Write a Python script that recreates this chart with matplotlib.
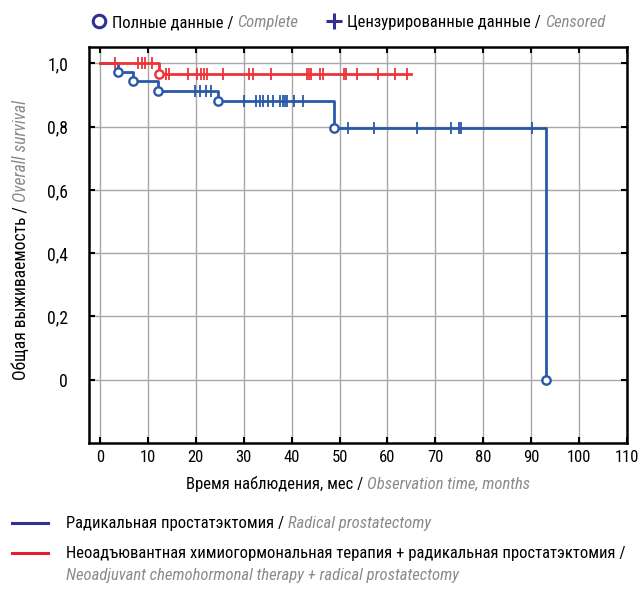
import numpy as np
import matplotlib
matplotlib.use("Agg")
import matplotlib.pyplot as plt
from matplotlib.lines import Line2D
from matplotlib import font_manager as fm

# ---------------------------------------------- data

# radical prostatectomy
rp_times = [0, 3.8, 6.9, 12.1, 24.6, 48.9, 93.1]
rp_surv = [1.0, 0.972, 0.944, 0.912, 0.881, 0.795, 0.0]
rp_events = [3.8, 6.9, 12.1, 24.6, 48.9, 93.1]
rp_censored = [19.8, 20.9, 22.2, 23.2,
               30.1, 32.6, 33.4, 34.1, 35.0, 36.2, 37.6, 38.1, 38.6, 39.1, 40.5, 42.3,
               51.7, 57.2, 66.1, 73.3, 74.9, 75.4, 90.1]

# neoadjuvant chemohormonal therapy + radical prostatectomy
nt_times = [0, 12.3]
nt_surv = [1.0, 0.968]
nt_end = 65.0
nt_events = [12.3]
nt_censored = [3.2, 8.0, 8.7, 9.4, 10.8,
               13.8, 14.5, 18.4, 20.2, 21.0, 21.7, 22.4, 25.7, 31.0, 32.0, 35.6,
               43.2, 43.7, 44.1, 45.9, 46.6, 50.9, 51.4, 53.7, 58.1, 61.6, 64.0]

x_ticks = [0, 10, 20, 30, 40, 50, 60, 70, 80, 90, 100, 110]
y_ticks = [0, 0.2, 0.4, 0.6, 0.8, 1.0]
y_labels = ["0", "0,2", "0,4", "0,6", "0,8", "1,0"]

BLUE = "#2a58a8"
RED = "#ee3338"
NAVY = "#2e3192"
LRED = "#e31e2d"
GRAY = "#8a8a8a"
W, H = 638, 592

# ---------------------------------------------- pick a narrow font if there is one

names = {f.name for f in fm.fontManager.ttflist}
narrowStretch = ('condensed', 'semi-condensed', 'extra-condensed', 'ultra-condensed')
family = 'DejaVu Sans'
stretch = 'normal'
for cand in ['Liberation Sans Narrow', 'Roboto Condensed', 'Open Sans Condensed',
             'DejaVu Sans Condensed']:
  if cand in names:
    family = cand
    break
else:
  for f in fm.fontManager.ttflist:
    if f.name in ('DejaVu Sans', 'Roboto', 'Open Sans', 'Noto Sans') and f.stretch in narrowStretch:
      family = f.name
      stretch = f.stretch
      break

plt.rcParams['font.family'] = [family, 'DejaVu Sans']
plt.rcParams['font.stretch'] = stretch

# ----------------------------------------------

def survAt(times, surv, t):
  i = np.searchsorted(times, t, side='right') - 1
  return np.array(surv)[i]


def richText(fig, px, py, parts, fs, rotation=0, center=False):
  # parts: list of (text, color, style); px, py in pixels from top-left
  r = fig.canvas.get_renderer()
  texts = []
  sizes = []
  for txt, color, style in parts:
    t = fig.text(0, 0, txt, color=color, style=style, fontsize=fs, rotation=rotation,
                 rotation_mode='anchor', ha='left', va='baseline')
    ex = t.get_window_extent(renderer=r)
    texts.append(t)
    sizes.append(ex.height if rotation else ex.width)
  pos = -sum(sizes) / 2 if center else 0
  for t, s in zip(texts, sizes):
    if rotation:
      t.set_position((px / W, 1 - (py - pos) / H))
    else:
      t.set_position(((px + pos) / W, 1 - py / H))
    pos += s
  return sum(sizes)


def drawCurve(ax, times, surv, end, events, censored, color):
  xs = list(times) + ([end] if end is not None else [])
  ys = list(surv) + ([surv[-1]] if end is not None else [])
  ax.step(xs, ys, where='post', color=color, lw=2.0, zorder=3)
  ax.plot(censored, survAt(times, surv, censored), ls='none', marker='|',
          ms=8, mew=1.3, color=color, zorder=4)
  ax.plot(events, survAt(times, surv, events), ls='none', marker='o',
          ms=6, mew=1.7, mfc='white', mec=color, zorder=5)

# ----------------------------------------------

fig = plt.figure(figsize=(W / 100, H / 100), dpi=100)

# fit the font size to the long legend line (66 .. 627 px in the reference)
longLine = "Неоадъювантная химиогормональная терапия + радикальная простатэктомия /"
probe = fig.text(0, 0, longLine, fontsize=12)
probeW = probe.get_window_extent(renderer=fig.canvas.get_renderer()).width
probe.remove()
FS = min(13.5, 12 * 560 / probeW)

ax = fig.add_axes([89 / W, 1 - 443 / H, (627 - 89) / W, (443 - 47) / H])

ax.set_xlim(-2.3, 110)
ax.set_ylim(-0.2, 1.052)
ax.set_xticks(x_ticks)
ax.set_yticks(y_ticks)
ax.set_yticklabels(y_labels)
ax.grid(True, color="#a8a8a8", lw=1.0, zorder=0)
ax.tick_params(direction='in', length=4, width=1.5, top=True, right=True,
               labelsize=FS, pad=5)
ax.tick_params(axis='y', labelsize=FS * 1.06, pad=15)
for s in ax.spines.values():
  s.set_linewidth(1.8)

drawCurve(ax, rp_times, rp_surv, None, rp_events, rp_censored, BLUE)
drawCurve(ax, nt_times, nt_surv, nt_end, nt_events, nt_censored, RED)

# axis titles
richText(fig, 358, 489,
         [("Время наблюдения, мес / ", "black", "normal"),
          ("Observation time, months", GRAY, "italic")], FS, center=True)
richText(fig, 26, 240,
         [("Общая выживаемость / ", "black", "normal"),
          ("Overall survival", GRAY, "italic")], FS * 1.05, rotation=90, center=True)

# top legend
fig.add_artist(Line2D([99 / W], [1 - 21 / H], marker='o', ms=9, mew=2.2,
                      mfc='white', mec=NAVY, ls='none', transform=fig.transFigure))
richText(fig, 112, 27,
         [("Полные данные / ", "black", "normal"),
          ("Complete", GRAY, "italic")], FS)
fig.add_artist(Line2D([334 / W], [1 - 21 / H], marker='+', ms=12, mew=2.2,
                      color=NAVY, ls='none', transform=fig.transFigure))
richText(fig, 347, 27,
         [("Цензурированные данные / ", "black", "normal"),
          ("Censored", GRAY, "italic")], FS)

# bottom legend
fig.add_artist(Line2D([12 / W, 48 / W], [1 - 523 / H] * 2, color=NAVY, lw=2.2,
                      transform=fig.transFigure))
richText(fig, 66, 528,
         [("Радикальная простатэктомия / ", "black", "normal"),
          ("Radical prostatectomy", GRAY, "italic")], FS)
fig.add_artist(Line2D([12 / W, 48 / W], [1 - 553 / H] * 2, color=LRED, lw=2.2,
                      transform=fig.transFigure))
richText(fig, 66, 558, [(longLine, "black", "normal")], FS)
richText(fig, 66, 580,
         [("Neoadjuvant chemohormonal therapy + radical prostatectomy", GRAY, "italic")], FS)

fig.savefig("out.png", dpi=100)
